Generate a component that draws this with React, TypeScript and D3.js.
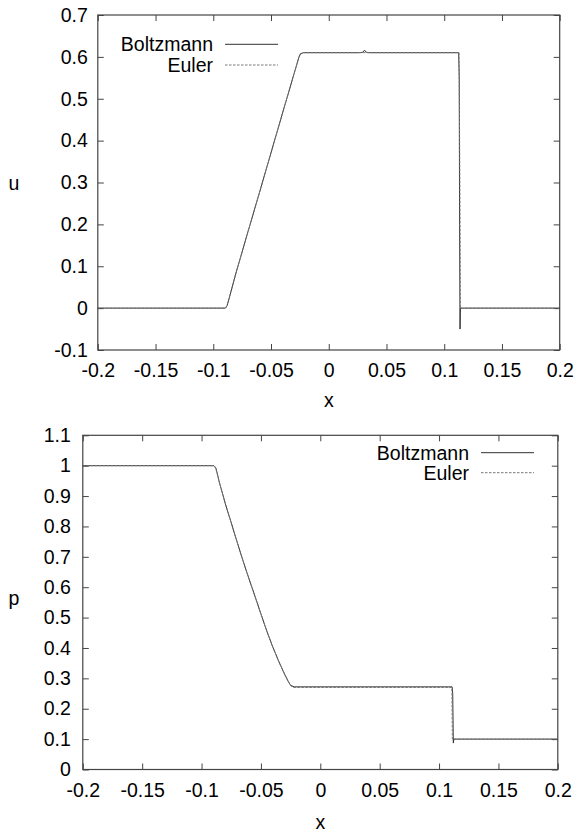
import React from 'react';
import * as d3 from 'd3';

const FONT = '"Liberation Sans", Arial, Helvetica, sans-serif';

const xTicks = [-0.2, -0.15, -0.1, -0.05, 0, 0.05, 0.1, 0.15, 0.2];
const uTicks = [-0.1, 0, 0.1, 0.2, 0.3, 0.4, 0.5, 0.6, 0.7];
const pTicks = [0, 0.1, 0.2, 0.3, 0.4, 0.5, 0.6, 0.7, 0.8, 0.9, 1, 1.1];
const seriesNames = ['Boltzmann', 'Euler'];

// velocity u(x), Boltzmann solution (small bump at contact, undershoot at shock)
const uBoltzmann: [number, number][] = [
    [-0.2, 0], [-0.0895, 0], [-0.088, 0.006], [-0.086, 0.026], [-0.08, 0.087],
    [-0.07, 0.182], [-0.06, 0.276], [-0.05, 0.371], [-0.04, 0.466], [-0.03, 0.56],
    [-0.026, 0.598], [-0.0245, 0.607], [-0.022, 0.61], [0.026, 0.61], [0.0295, 0.611],
    [0.031, 0.616], [0.0325, 0.611], [0.035, 0.61], [0.1125, 0.61], [0.113, 0.55],
    [0.1133, 0.2], [0.1137, -0.05], [0.114, 0], [0.2, 0],
];
// velocity u(x), Euler solution
const uEuler: [number, number][] = [
    [-0.2, 0], [-0.0893, 0], [-0.088, 0.008], [-0.086, 0.027], [-0.08, 0.087],
    [-0.07, 0.182], [-0.06, 0.276], [-0.05, 0.371], [-0.04, 0.466], [-0.03, 0.56],
    [-0.026, 0.598], [-0.0245, 0.608], [-0.022, 0.61], [0.1128, 0.61], [0.1136, 0.3],
    [0.114, 0], [0.2, 0],
];
// pressure p(x), Boltzmann solution
const pBoltzmann: [number, number][] = [
    [-0.2, 1], [-0.0896, 1], [-0.088, 0.993], [-0.0865, 0.97], [-0.085, 0.945],
    [-0.08, 0.875], [-0.075, 0.812], [-0.07, 0.748], [-0.065, 0.686], [-0.06, 0.627],
    [-0.055, 0.57], [-0.05, 0.512], [-0.045, 0.455], [-0.04, 0.403], [-0.035, 0.356],
    [-0.03, 0.313], [-0.027, 0.29], [-0.025, 0.277], [-0.022, 0.272], [0.111, 0.272],
    [0.1115, 0.25], [0.112, 0.087], [0.1125, 0.1], [0.2, 0.1],
];
// pressure p(x), Euler solution
const pEuler: [number, number][] = [
    [-0.2, 1], [-0.0894, 1], [-0.088, 0.99], [-0.0865, 0.968], [-0.085, 0.945],
    [-0.08, 0.875], [-0.075, 0.812], [-0.07, 0.748], [-0.065, 0.686], [-0.06, 0.627],
    [-0.055, 0.57], [-0.05, 0.512], [-0.045, 0.455], [-0.04, 0.403], [-0.035, 0.356],
    [-0.03, 0.313], [-0.027, 0.29], [-0.025, 0.276], [-0.023, 0.27], [0.1108, 0.27],
    [0.1112, 0.1], [0.2, 0.1],
];

const fmt = (d: any) => String(+(+d).toFixed(2));

function styleAxis(g: any) {
    g.select('.domain').remove();
    g.attr('font-size', 19.5).attr('font-family', FONT);
    g.selectAll('line').attr('stroke', '#444').attr('stroke-width', 1);
    g.selectAll('text').attr('fill', '#000');
}

function Panel(props: any) {
    const { left, right, top, bottom, yDomain, yTicks, yLabel, yLabelX, yLabelY, xLabelY,
        boltzmann, euler, legendRight, legendRow1, legendRow2, yPad } = props;

    const xScale = d3.scaleLinear().domain([-0.2, 0.2]).range([left, right]);
    const yScale = d3.scaleLinear().domain(yDomain).range([bottom, top]);

    const line = d3.line<[number, number]>()
        .x(d => xScale(d[0]))
        .y(d => yScale(d[1]));

    const xAxis = d3.axisBottom(xScale).tickValues(xTicks).tickFormat(fmt)
        .tickSizeInner(-6).tickSizeOuter(0).tickPadding(13.5);
    const xAxisTop = d3.axisTop(xScale).tickValues(xTicks).tickFormat(() => '')
        .tickSizeInner(-6).tickSizeOuter(0);
    const yAxis = d3.axisLeft(yScale).tickValues(yTicks).tickFormat(fmt)
        .tickSizeInner(-6).tickSizeOuter(0).tickPadding(yPad);
    const yAxisRight = d3.axisRight(yScale).tickValues(yTicks).tickFormat(() => '')
        .tickSizeInner(-6).tickSizeOuter(0);

    const lineX1 = legendRight + 12;
    const lineX2 = legendRight + 65;

    return (
        <g>
            <g transform={`translate(0, ${bottom})`} ref={node => { if (node) d3.select(node).call(xAxis).call(styleAxis); }} />
            <g transform={`translate(0, ${top})`} ref={node => { if (node) d3.select(node).call(xAxisTop).call(styleAxis); }} />
            <g transform={`translate(${left}, 0)`} ref={node => { if (node) d3.select(node).call(yAxis).call(styleAxis); }} />
            <g transform={`translate(${right}, 0)`} ref={node => { if (node) d3.select(node).call(yAxisRight).call(styleAxis); }} />

            <path d={line(boltzmann) || ''} fill="none" stroke="#333" strokeWidth={1} />
            <path d={line(euler) || ''} fill="none" stroke="#777" strokeWidth={1} strokeDasharray="2.5,1.5" />

            <rect x={left} y={top} width={right - left} height={bottom - top}
                fill="none" stroke="#444" strokeWidth={1.2} />

            <text x={legendRight} y={legendRow1 + 6.8} textAnchor="end" fontFamily={FONT} fontSize={19.5}>{seriesNames[0]}</text>
            <line x1={lineX1} x2={lineX2} y1={legendRow1} y2={legendRow1} stroke="#333" strokeWidth={1} />
            <text x={legendRight} y={legendRow2 + 6.8} textAnchor="end" fontFamily={FONT} fontSize={19.5}>{seriesNames[1]}</text>
            <line x1={lineX1} x2={lineX2} y1={legendRow2} y2={legendRow2} stroke="#777" strokeWidth={1} strokeDasharray="2.5,1.5" />

            <text x={yLabelX} y={yLabelY} textAnchor="middle" fontFamily={FONT} fontSize={19.5}>{yLabel}</text>
            <text x={(left + right) / 2} y={xLabelY} textAnchor="middle" fontFamily={FONT} fontSize={19.5}>x</text>
        </g>
    );
}

export default function App() {
    return (
        <svg width={585} height={833} style={{ position: 'absolute', left: 0, top: 0, background: '#fff' }}>
            <rect width={585} height={833} fill="#fff" />
            <Panel left={97.8} right={559.7} top={15} bottom={350}
                yDomain={[-0.1, 0.7]} yTicks={uTicks} yLabel="u" yLabelX={14} yLabelY={190}
                xLabelY={406.5} boltzmann={uBoltzmann} euler={uEuler}
                legendRight={213} legendRow1={44.3} legendRow2={65} yPad={10} />
            <Panel left={82.8} right={557.8} top={435.3} bottom={769.5}
                yDomain={[0, 1.1]} yTicks={pTicks} yLabel="p" yLabelX={14} yLabelY={605}
                xLabelY={829} boltzmann={pBoltzmann} euler={pEuler}
                legendRight={469} legendRow1={452.7} legendRow2={472.7} yPad={12} />
        </svg>
    );
}
